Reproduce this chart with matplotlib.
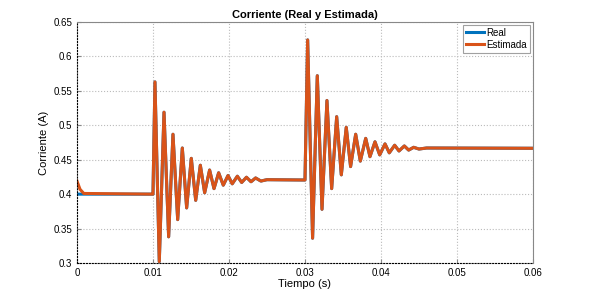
import matplotlib
matplotlib.use("Agg")
import matplotlib.pyplot as plt

plt.rcParams['font.family'] = ['Liberation Sans', 'DejaVu Sans']

# Current estimate (extrema of the oscillations)
t_est = [0.0, 0.0004, 0.0009, 0.0098, 0.0100,
         0.01026, 0.01083, 0.01145, 0.01206, 0.01263, 0.01325, 0.01386, 0.01443,
         0.01504, 0.01562, 0.01623, 0.0168, 0.01745, 0.01803, 0.01864, 0.01925,
         0.01987, 0.02043, 0.0211, 0.02167, 0.0223, 0.0229, 0.0235, 0.0242,
         0.0250, 0.0300,
         0.03035, 0.0310, 0.03162, 0.03224, 0.03289, 0.03351, 0.03417, 0.03478,
         0.03543, 0.0360, 0.03667, 0.03728, 0.03799, 0.03855, 0.03921, 0.03983,
         0.04053, 0.04109, 0.0418, 0.04237, 0.04307, 0.04364, 0.0443, 0.0450,
         0.0460, 0.0600]
i_est = [0.419, 0.407, 0.401, 0.400, 0.400,
         0.563, 0.302, 0.519, 0.338, 0.487, 0.363, 0.467, 0.380,
         0.452, 0.391, 0.442, 0.402, 0.435, 0.408, 0.431, 0.413,
         0.427, 0.415, 0.426, 0.417, 0.4245, 0.418, 0.4235, 0.419,
         0.421, 0.4205,
         0.624, 0.336, 0.572, 0.378, 0.536, 0.408, 0.5125, 0.428,
         0.497, 0.440, 0.487, 0.448, 0.481, 0.4544, 0.476, 0.457,
         0.473, 0.460, 0.471, 0.4627, 0.470, 0.464, 0.468, 0.4655,
         0.467, 0.4666]

# Real current: same as the estimate except it starts at 0.4
t_real = t_est
i_real = [0.400, 0.400, 0.400] + i_est[3:]

fig = plt.figure(figsize=(5.89, 2.95), dpi=100)
ax = fig.add_axes([0.1307, 0.1085, 0.7742, 0.8169])

ax.plot(t_real, i_real, color='#0072BD', lw=2.2, label='Real')
ax.plot(t_est, i_est, color='#D95319', lw=2.2, label='Estimada')

ax.set_xlim(0, 0.06)
ax.set_ylim(0.3, 0.65)
ax.set_xticks([0, 0.01, 0.02, 0.03, 0.04, 0.05, 0.06])
ax.set_xticklabels(['0', '0.01', '0.02', '0.03', '0.04', '0.05', '0.06'])
ax.set_yticks([0.3, 0.35, 0.4, 0.45, 0.5, 0.55, 0.6, 0.65])
ax.set_yticklabels(['0.3', '0.35', '0.4', '0.45', '0.5', '0.55', '0.6', '0.65'])
ax.tick_params(direction='in', labelsize=7, length=3, color='#888888')
ax.grid(True, ls=':', color='#bbbbbb', lw=0.8)

for side in ['left', 'bottom']:
    ax.spines[side].set_linestyle(':')
    ax.spines[side].set_color('black')
for side in ['top', 'right']:
    ax.spines[side].set_color('#888888')

ax.set_title('Corriente (Real y Estimada)', fontsize=8, fontweight='bold', pad=3)
ax.set_xlabel('Tiempo (s)', fontsize=8, labelpad=1)
ax.set_ylabel('Corriente (A)', fontsize=8, labelpad=3)

leg = ax.legend(loc='upper right', fontsize=7, frameon=True, fancybox=False,
                borderpad=0.3, handlelength=1.8, handletextpad=0.3, labelspacing=0.2,
                borderaxespad=0.3)
leg.get_frame().set_edgecolor('#888888')
leg.get_frame().set_linewidth(0.8)

fig.savefig('out.png', dpi=100)
